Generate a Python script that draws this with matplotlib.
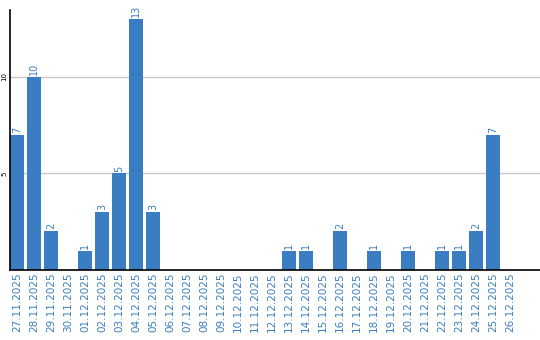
import matplotlib
matplotlib.use('Agg')
import matplotlib.pyplot as plt
import numpy as np

dates = ['27.11.2025', '28.11.2025', '29.11.2025', '30.11.2025', '01.12.2025',
         '02.12.2025', '03.12.2025', '04.12.2025', '05.12.2025', '06.12.2025',
         '07.12.2025', '08.12.2025', '09.12.2025', '10.12.2025', '11.12.2025',
         '12.12.2025', '13.12.2025', '14.12.2025', '15.12.2025', '16.12.2025',
         '17.12.2025', '18.12.2025', '19.12.2025', '20.12.2025', '21.12.2025',
         '22.12.2025', '23.12.2025', '24.12.2025', '25.12.2025', '26.12.2025']
counts = [7, 10, 2, 0, 1, 3, 5, 13, 3, 0, 0, 0, 0, 0, 0,
          0, 1, 1, 0, 2, 0, 1, 0, 1, 0, 1, 1, 2, 7, 0]
yticks = [5, 10]

blue = '#3b7dc2'

fig = plt.figure(figsize=(5.4, 3.4), dpi=100)
ax = fig.add_axes([10/540, 70/340, 530/540, 260/340])

x = np.arange(len(dates))
w = 14/17
bars = ax.bar(x, counts, width=w, align='edge', color=blue, zorder=2)

# value labels on top of non-zero bars
for xi, v in zip(x, counts):
    if v > 0:
        ax.text(xi + w/2, v + 0.1, str(v), rotation=90, ha='center', va='bottom',
                color=blue, fontsize=7)

ax.set_xlim(0, 530/17)
ax.set_ylim(0, 13.47)
ax.set_xticks(x + w/2)
ax.set_xticklabels(dates, rotation=90, color=blue, fontsize=7.5)
ax.set_yticks(yticks)
ax.set_yticklabels([str(t) for t in yticks], rotation=90, fontsize=5, va='center')
ax.tick_params(axis='both', length=0, pad=2)
ax.grid(axis='y', color='#c8c8c8', linewidth=1, zorder=1)
ax.spines['top'].set_visible(False)
ax.spines['right'].set_visible(False)
ax.spines['left'].set_linewidth(1.2)
ax.spines['bottom'].set_linewidth(1.2)

fig.savefig('out.png', dpi=100)
